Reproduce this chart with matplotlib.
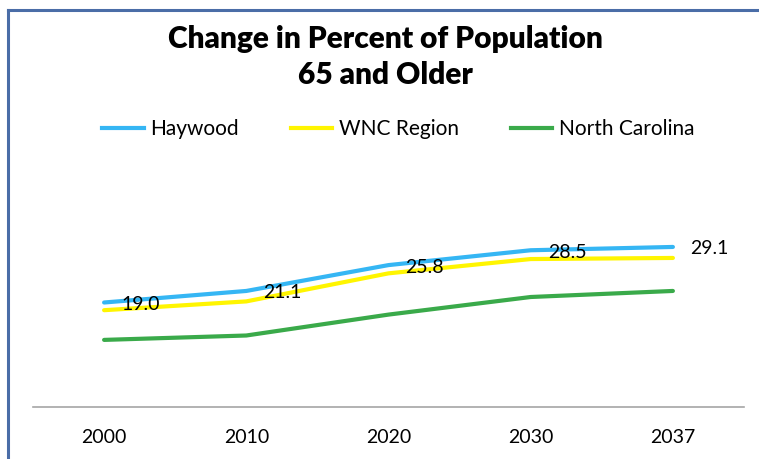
import matplotlib
matplotlib.use("Agg")
import matplotlib.pyplot as plt
from matplotlib.lines import Line2D

plt.rcParams["font.family"] = ["Lato", "DejaVu Sans"]

years = ["2000", "2010", "2020", "2030", "2037"]
haywood = [19.0, 21.1, 25.8, 28.5, 29.1]
wnc_region = [17.6, 19.2, 24.3, 26.9, 27.1]
north_carolina = [12.2, 13.0, 16.8, 20.0, 21.1]

series_names = ["Haywood", "WNC Region", "North Carolina"]
series_colors = ["#35B6F4", "#FFF500", "#3AAA4A"]

W, H = 759, 459
fig = plt.figure(figsize=(W / 100, H / 100), dpi=100)
fig.patch.set_facecolor("white")

ax = fig.add_axes([33 / W, 1 - 407 / H, 711 / W, 5.5 * 50 / H])
x = list(range(len(years)))
for vals, name, col in zip([haywood, wnc_region, north_carolina], series_names, series_colors):
    ax.plot(x, vals, color=col, lw=3.0, label=name, solid_capstyle="round")

for xi, v in zip(x, haywood):
    ax.annotate(f"{v:.1f}", (xi, v), xytext=(17, -2), textcoords="offset pixels",
                ha="left", va="center", fontsize=14, color="black")

ax.set_xlim(-0.5, len(years) - 0.5)
ax.set_ylim(0, 50)
ax.set_xticks(x)
ax.set_xticklabels(years, fontsize=14)
ax.set_yticks([])
ax.tick_params(axis="x", length=0, pad=16)
for s in ["top", "right", "left"]:
    ax.spines[s].set_visible(False)
ax.spines["bottom"].set_color("#A6A6A6")
ax.spines["bottom"].set_linewidth(1.2)
ax.patch.set_alpha(0)

fig.text(385 / W, 1 - 57 / H, "Change in Percent of Population\n65 and Older",
         ha="center", va="center", fontsize=21.5, fontweight="heavy", linespacing=1.35)

handles = [Line2D([], [], color=c, lw=3.0) for c in series_colors]
fig.legend(handles, series_names, loc="center left", bbox_to_anchor=(102 / W, 1 - 129 / H),
           ncol=3, frameon=False, fontsize=15, handlelength=2.0, handletextpad=0.3,
           columnspacing=2.5, borderpad=0, borderaxespad=0)

# outer frame (left and top edge)
border = "#4A6DA7"
fig.add_artist(Line2D([8 / W, 8 / W], [0, 1 - 10 / H], color=border, lw=2.2, transform=fig.transFigure))
fig.add_artist(Line2D([8 / W, 1], [1 - 10 / H, 1 - 10 / H], color=border, lw=2.2, transform=fig.transFigure))

fig.savefig("out.png", dpi=100)
